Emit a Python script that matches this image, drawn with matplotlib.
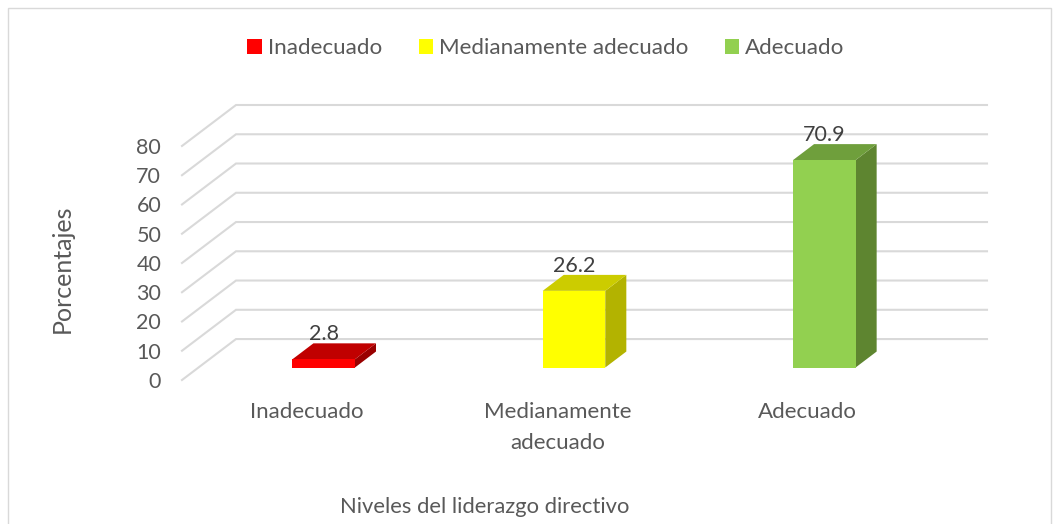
import matplotlib
matplotlib.use('Agg')
from matplotlib import pyplot as plt
from matplotlib.patches import Patch, Polygon, Rectangle

# chart values
CATEGORIES = ['Inadecuado', 'Medianamente adecuado', 'Adecuado']
TICK_LABELS = ['Inadecuado', 'Medianamente\nadecuado', 'Adecuado']
VALUES = [2.8, 26.2, 70.9]
Y_TICKS = [0, 10, 20, 30, 40, 50, 60, 70, 80]

FRONT_COLORS = ['#FF0000', '#FFFF00', '#92D050']
TOP_COLORS = ['#C00000', '#CCCC00', '#6F9F3C']
SIDE_COLORS = ['#990000', '#B3B300', '#5E8530']

W, H = 1060, 524
# oblique projection: how far the back wall is shifted, in data units
DX = 54 / 250.3
DY = 14.0
BAR_WIDTH = 0.25
D_FRONT, D_BACK = 0.305, 0.695

TEXT = '#595959'
GRID = '#D9D9D9'

plt.rcParams['font.family'] = ['Lato', 'DejaVu Sans']


def project(x, y, d):
    return x + d * DX, y + d * DY


fig = plt.figure(figsize=(W / 100, H / 100), dpi=100)
fig.add_artist(Rectangle((8 / W, -0.05), (1051 - 8) / W, 1.05 - 8 / H, transform=fig.transFigure,
                         fill=False, edgecolor='#D9D9D9', linewidth=1.0))

# axes box goes from front-left corner at y=0 to back-right corner at y=80
ax = fig.add_axes([182 / W, (H - 380) / H, (987 - 182) / W, (380 - 105) / H])
ax.set_xlim(-0.5, 2.5 + DX)
ax.set_ylim(0, 80 + DY)
ax.patch.set_alpha(0)
for s in ax.spines.values():
    s.set_visible(False)

# gridlines: side wall + back wall
for t in Y_TICKS:
    xs = [-0.5, project(-0.5, t, 1)[0], project(2.5, t, 1)[0]]
    ys = [t, project(-0.5, t, 1)[1], project(2.5, t, 1)[1]]
    ax.plot(xs, ys, color=GRID, linewidth=1.5, zorder=1, clip_on=False, solid_joinstyle='miter')

for i, v in enumerate(VALUES):
    x0, x1 = i - BAR_WIDTH / 2 , i + BAR_WIDTH / 2
    front = [project(x0, 0, D_FRONT), project(x1, 0, D_FRONT), project(x1, v, D_FRONT), project(x0, v, D_FRONT)]
    top = [project(x0, v, D_FRONT), project(x1, v, D_FRONT), project(x1, v, D_BACK), project(x0, v, D_BACK)]
    side = [project(x1, 0, D_FRONT), project(x1, 0, D_BACK), project(x1, v, D_BACK), project(x1, v, D_FRONT)]
    ax.add_patch(Polygon(side, facecolor=SIDE_COLORS[i], edgecolor='none', zorder=3))
    ax.add_patch(Polygon(top, facecolor=TOP_COLORS[i], edgecolor='none', zorder=3))
    ax.add_patch(Polygon(front, facecolor=FRONT_COLORS[i], edgecolor='none', zorder=4))
    lx, ly = project(i, v, D_FRONT)
    ax.annotate(f'{v:.1f}', (lx, ly), xytext=(0, 18), textcoords='offset points',
                ha='center', va='center', fontsize=15.5, color='#404040', zorder=5)

ax.set_yticks(Y_TICKS)
ax.set_yticklabels([str(t) for t in Y_TICKS])
ax.set_xticks(range(len(TICK_LABELS)))
ax.set_xticklabels(TICK_LABELS, linespacing=1.65)
ax.tick_params(axis='y', length=0, pad=15, labelsize=15.5, labelcolor=TEXT)
ax.tick_params(axis='x', length=0, pad=16, labelsize=16, labelcolor=TEXT)

fig.text(62 / W, (H - 269) / H, 'Porcentajes', rotation=90, ha='center', va='center',
         fontsize=18, color=TEXT)
fig.text(485 / W, (H - 507) / H, 'Niveles del liderazgo directivo', ha='center', va='center',
         fontsize=15.8, color=TEXT)

handles = [Patch(facecolor=c, edgecolor='none') for c in FRONT_COLORS]
fig.legend(handles, CATEGORIES, ncol=3, loc='center', bbox_to_anchor=(546 / W, (H - 48.5) / H),
           frameon=False, fontsize=16.1, labelcolor=TEXT, handlelength=0.63, handleheight=0.63,
           handletextpad=0.27, columnspacing=1.65)

fig.savefig('out.png', dpi=100)
